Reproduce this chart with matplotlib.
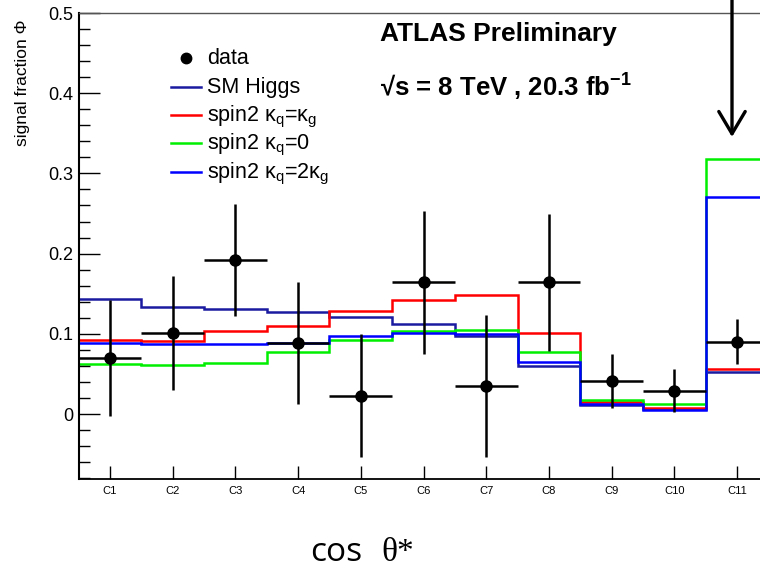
import matplotlib
matplotlib.use("Agg")
import matplotlib.pyplot as plt
import numpy as np
from matplotlib.lines import Line2D
from matplotlib.patches import FancyArrowPatch
from matplotlib.ticker import MultipleLocator

plt.rcParams['font.family'] = ['Liberation Sans', 'DejaVu Sans']
plt.rcParams['mathtext.fontset'] = 'custom'
plt.rcParams['mathtext.rm'] = 'Liberation Sans'
plt.rcParams['mathtext.it'] = 'Liberation Sans:italic'
plt.rcParams['mathtext.bf'] = 'Liberation Sans:bold'

categories = ["C1", "C2", "C3", "C4", "C5", "C6", "C7", "C8", "C9", "C10", "C11"]
data_vals = [0.070, 0.101, 0.192, 0.088, 0.023, 0.164, 0.035, 0.164, 0.041, 0.029, 0.090]
data_errs = [0.072, 0.071, 0.070, 0.076, 0.077, 0.089, 0.089, 0.086, 0.034, 0.027, 0.028]
sm_higgs = [0.144, 0.133, 0.131, 0.127, 0.121, 0.112, 0.097, 0.060, 0.011, 0.006, 0.052]
spin2_eq = [0.092, 0.091, 0.103, 0.110, 0.128, 0.142, 0.149, 0.101, 0.015, 0.008, 0.056]
spin2_zero = [0.063, 0.061, 0.064, 0.077, 0.092, 0.104, 0.105, 0.077, 0.017, 0.013, 0.318]
spin2_two = [0.088, 0.087, 0.087, 0.088, 0.097, 0.101, 0.100, 0.065, 0.012, 0.005, 0.271]

series_labels = ["SM Higgs",
                 "spin2 \u03ba$_\\mathregular{q}$=\u03ba$_\\mathregular{g}$",
                 "spin2 \u03ba$_\\mathregular{q}$=0",
                 "spin2 \u03ba$_\\mathregular{q}$=2\u03ba$_\\mathregular{g}$"]
series_colors = ["#1a1aa0", "#ff0000", "#00ee00", "#0000ff"]

W, H = 760, 569
fig = plt.figure(figsize=(W / 100, H / 100), dpi=100)
ax = fig.add_axes([78.5 / W, (H - 479) / H, 690 / W, 466 / H])


def fx(px):
    return px / W


def fy(py):
    return 1 - py / H


edges = np.arange(len(categories) + 1)
centers = edges[:-1] + 0.5

lw = 1.8
for vals, col in zip([sm_higgs, spin2_eq, spin2_zero, spin2_two], series_colors):
    ax.stairs(vals, edges, color=col, lw=lw, baseline=None)

ax.errorbar(centers, data_vals, yerr=data_errs, xerr=0.5, fmt='o', color='black',
            ms=8, elinewidth=1.8, capsize=0, zorder=5)

ax.set_xlim(0, len(categories))
ax.set_ylim(-0.081, 0.5)
ax.set_xticks(centers)
ax.set_xticklabels(categories, fontsize=8)
ax.yaxis.set_minor_locator(MultipleLocator(0.02))
ax.set_yticks([0, 0.1, 0.2, 0.3, 0.4, 0.5])
ax.set_yticklabels(["0", "0.1", "0.2", "0.3", "0.4", "0.5"], fontsize=13)
ax.tick_params(axis='y', which='major', direction='in', length=15, width=1.0, pad=4)
ax.tick_params(axis='y', which='minor', direction='in', length=8, width=1.0)
ax.tick_params(axis='x', which='major', direction='in', length=9.5, width=1.0, pad=5)
ax.tick_params(axis='x', which='minor', length=0)
ax.spines['left'].set_linewidth(1.5)
ax.spines['bottom'].set_linewidth(1.3)
ax.spines['top'].set_linewidth(1.0)
ax.spines['top'].set_color('#555555')

ax.set_ylabel("signal fraction \u03a6", fontsize=12.5)
ax.yaxis.set_label_coords(-0.0703, 0.85)

# legend (drawn manually to match the row spacing)
rows = [57.7, 86.7, 115.0, 143.3, 171.7]
x0, x1, xt = 171, 201, 207
fig.add_artist(Line2D([fx(186)], [fy(rows[0])], marker='o', ls='none', color='black',
                      ms=7.5, transform=fig.transFigure))
fig.text(fx(xt), fy(rows[0] + 6), "data", fontsize=15.5, ha='left', va='baseline')
for r, lab, col in zip(rows[1:], series_labels, series_colors):
    fig.add_artist(Line2D([fx(x0), fx(x1)], [fy(r), fy(r)], color=col, lw=lw,
                          transform=fig.transFigure))
    fig.text(fx(xt), fy(r + 6.5), lab, fontsize=15.5, ha='left', va='baseline')

fig.text(fx(380), fy(41), "ATLAS Preliminary", fontsize=19, fontweight='bold',
         ha='left', va='baseline')
fig.text(fx(380), fy(97), "\u221as = 8 TeV , 20.3 fb$^{\\mathbf{-1}}$",
         fontsize=18.5, fontweight='bold', ha='left', va='baseline')

fig.text(fx(310), fy(561), "cos", fontsize=24, family='Open Sans',
         ha='left', va='baseline')
fig.text(fx(381), fy(561), "\u03b8*", fontsize=24, family='Liberation Serif',
         ha='left', va='baseline')

arrow = FancyArrowPatch((fx(732), 1.02), (fx(732), fy(137)),
                        transform=fig.transFigure,
                        arrowstyle='->,head_length=16,head_width=9.5',
                        mutation_scale=1, lw=2.4, color='black', clip_on=False,
                        shrinkA=0, shrinkB=0)
fig.add_artist(arrow)

fig.savefig("out.png", dpi=100)
